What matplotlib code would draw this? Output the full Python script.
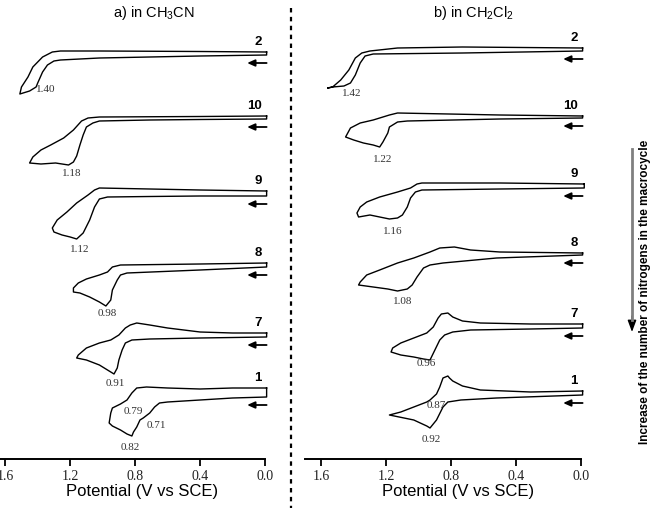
import matplotlib.pyplot as plt
from matplotlib.lines import Line2D
from matplotlib.patches import FancyArrowPatch

plt.rcParams['font.family'] = ['Liberation Sans', 'DejaVu Sans']
plt.rcParams['mathtext.fontset'] = 'custom'
plt.rcParams['mathtext.rm'] = 'Liberation Sans'
plt.rcParams['mathtext.default'] = 'regular'

# ---- a) in CH3CN : potential (V vs SCE) and current (a.u.) ----
a_names = ['2', '10', '9', '8', '7', '1']
a_offsets = [407, 343, 268, 196, 126, 71]

a_E_2 = [-0.01, 0.40, 1.02, 1.26, 1.31, 1.37, 1.43, 1.46, 1.50, 1.51, 1.45, 1.41, 1.40, 1.37, 1.34, 1.30, 1.26, 1.02, 0.40, -0.01]
a_I_2 = [0, 0.5, 1, 1, 0, -5, -15, -25, -35, -42, -39, -35, -31, -20, -13, -9, -8, -6, -4, -3]

a_E_10 = [-0.01, 0.40, 1.02, 1.09, 1.13, 1.18, 1.24, 1.32, 1.38, 1.43, 1.45,
          1.38, 1.29, 1.21, 1.18, 1.16, 1.14, 1.12, 1.10, 1.06, 1.02, 0.71, 0.40, -0.01]
a_I_10 = [0, -0.5, -1, -2, -5, -14, -22, -29, -34, -41, -47,
          -48, -47, -49, -46, -40, -29, -19, -11, -7, -5, -4, -3.5, -3]

a_E_9 = [-0.01, 0.40, 1.02, 1.05, 1.09, 1.16, 1.22, 1.28, 1.31, 1.30,
         1.25, 1.20, 1.16, 1.12, 1.08, 1.05, 1.02, 0.97, 0.71, 0.40, -0.01]
a_I_9 = [0, 1, 3, 1, -4, -12, -21, -29, -37, -41,
         -44, -46, -48, -42, -29, -16, -8, -6, -5.5, -5, -5]

a_E_8 = [-0.01, 0.40, 0.89, 0.94, 0.97, 1.02, 1.10, 1.15, 1.18, 1.18,
         1.14, 1.08, 1.02, 0.98, 0.95, 0.94, 0.91, 0.89, 0.85, 0.40, -0.01]
a_I_8 = [0, -1, -2, -4, -9, -12, -16, -20, -25, -29,
         -30, -34, -39, -43, -37, -27, -17, -12, -10, -7, -4]

a_E_7 = [-0.01, 0.20, 0.40, 0.60, 0.71, 0.79, 0.83, 0.86, 0.90, 0.95, 1.02, 1.10, 1.15, 1.16,
         1.10, 1.02, 0.95, 0.93, 0.91, 0.90, 0.88, 0.86, 0.82, 0.71, 0.40, -0.01]
a_I_7 = [0, 0, 1, 5, 8, 10, 8, 5, -2, -7, -10, -15, -22, -25,
         -27, -32, -39, -41, -35, -27, -17, -10, -7, -6, -5, -4]

a_E_1 = [-0.01, 0.20, 0.40, 0.60, 0.73, 0.79, 0.82, 0.85, 0.89, 0.94, 0.95, 0.96,
         0.94, 0.89, 0.85, 0.82, 0.81, 0.79, 0.77, 0.75, 0.71, 0.68, 0.65, 0.60, 0.40, 0.20, -0.01]
a_I_1 = [0, 0, -1, 0, 1, 0, -5, -12, -16, -20, -25, -35,
         -38, -42, -46, -48, -44, -39, -32, -30, -25, -19, -15, -14, -12, -10, -9]

a_peak_text = ['1.40', '1.18', '1.12', '0.98', '0.91', '0.79', '0.71', '0.82']
a_peak_curve = ['2', '10', '9', '8', '7', '1', '1', '1']
a_peak_E = [1.35, 1.19, 1.14, 0.97, 0.92, 0.81, 0.67, 0.83]
a_peak_I = [-38, -57, -59, -50, -50, -24, -37, -59]

# ---- b) in CH2Cl2 ----
b_names = ['2', '10', '9', '8', '7', '1']
b_offsets = [411, 343, 275, 206, 135, 68]

b_E_2 = [-0.01, 0.73, 1.13, 1.30, 1.35, 1.39, 1.43, 1.48, 1.53, 1.56,
         1.53, 1.46, 1.42, 1.39, 1.36, 1.33, 1.28, 0.73, -0.01]
b_I_2 = [0, 1, 0, -3, -5, -10, -22, -32, -39, -40,
         -39, -38, -35, -27, -15, -8, -6, -5, -3]

b_E_10 = [-0.01, 0.50, 1.13, 1.18, 1.24, 1.28, 1.36, 1.42, 1.45,
          1.40, 1.34, 1.28, 1.24, 1.22, 1.19, 1.18, 1.13, 1.07, 0.50, -0.01]
b_I_10 = [0, 1, 3, 1, -2, -4, -7, -12, -21,
          -24, -27, -29, -31, -26, -17, -11, -6, -5, -3, -2]

b_E_9 = [-0.02, 0.50, 0.98, 1.01, 1.05, 1.13, 1.24, 1.32, 1.36, 1.38, 1.37,
         1.30, 1.24, 1.18, 1.13, 1.10, 1.07, 1.05, 1.02, 0.98, 0.50, -0.02]
b_I_9 = [0, 1, 1, 0, -4, -8, -13, -18, -23, -29, -33,
         -31, -33, -35, -34, -31, -23, -14, -8, -6, -5, -4]

b_E_8 = [-0.01, 0.50, 0.68, 0.78, 0.87, 0.93, 1.03, 1.13, 1.24, 1.32, 1.36, 1.37,
         1.28, 1.19, 1.13, 1.07, 1.04, 1.01, 0.97, 0.93, 0.85, 0.52, -0.01]
b_I_8 = [0, 1, 3, 6, 5, 1, -5, -10, -17, -22, -29, -32,
         -34, -36, -38, -36, -32, -24, -15, -12, -10, -5, -2]

b_E_7 = [-0.01, 0.31, 0.62, 0.73, 0.79, 0.82, 0.86, 0.88, 0.91, 0.95, 1.03, 1.11, 1.16, 1.17,
         1.11, 1.03, 0.97, 0.93, 0.90, 0.87, 0.84, 0.79, 0.68, 0.31, -0.01]
b_I_7 = [0, 0, 1, 3, 7, 11, 10, 6, -3, -9, -14, -19, -24, -28,
         -31, -33, -35, -36, -26, -16, -11, -8, -6, -5, -4]

b_E_1 = [-0.01, 0.31, 0.62, 0.73, 0.79, 0.81, 0.82, 0.85, 0.87, 0.89, 0.93, 0.95, 1.03, 1.11, 1.18,
         1.03, 0.95, 0.93, 0.89, 0.85, 0.82, 0.74, 0.52, -0.01]
b_I_1 = [0, -1, 1, 5, 10, 13, 15, 13, 4, -3, -9, -11, -16, -21, -24,
         -29, -35, -37, -29, -16, -11, -9, -7, -4]

b_peak_text = ['1.42', '1.22', '1.16', '1.08', '0.96', '0.87', '0.92']
b_peak_curve = ['2', '10', '9', '8', '7', '1', '1']
b_peak_E = [1.41, 1.22, 1.16, 1.10, 0.95, 0.89, 0.92]
b_peak_I = [-45, -43, -47, -48, -40, -15, -49]

ticks = [1.6, 1.2, 0.8, 0.4, 0.0]
tick_labels = ['1.6', '1.2', '0.8', '0.4', '0.0']

a_E = [a_E_2, a_E_10, a_E_9, a_E_8, a_E_7, a_E_1]
a_I = [a_I_2, a_I_10, a_I_9, a_I_8, a_I_7, a_I_1]
b_E = [b_E_2, b_E_10, b_E_9, b_E_8, b_E_7, b_E_1]
b_I = [b_I_2, b_I_10, b_I_9, b_I_8, b_I_7, b_I_1]

W, H = 651, 508
fig = plt.figure(figsize=(W / 100, H / 100), dpi=100)

serif = ['Liberation Serif', 'DejaVu Serif']


def draw_panel(ax, names, offsets, Es, Is, p_text, p_curve, p_E, p_I):
    for name, off, E, I in zip(names, offsets, Es, Is):
        y = [off + v for v in I]
        ax.plot(E + [E[0]], y + [y[0]], color='black', lw=1.0,
                solid_joinstyle='round', clip_on=False)
        ax.text(0.02, off + 10, name, ha='right', va='center',
                fontsize=9.5, fontweight='bold')
        ya = off + I[-1] - 8
        ax.annotate('', xy=(0.11, ya), xytext=(-0.01, ya),
                    arrowprops=dict(arrowstyle='-|>,head_length=0.45,head_width=0.2',
                                    color='black', lw=1.3, shrinkA=0, shrinkB=0),
                    annotation_clip=False)
    for t, c, e, i in zip(p_text, p_curve, p_E, p_I):
        off = offsets[names.index(c)]
        ax.text(e, off + i, t, ha='center', va='center', fontsize=8,
                family=serif, color='#333333')
    ax.set_xlim(1.7, 0.0)
    ax.set_ylim(0, 459)
    for s in ['left', 'right', 'top']:
        ax.spines[s].set_visible(False)
    ax.spines['bottom'].set_linewidth(1.4)
    ax.set_yticks([])
    ax.set_xticks(ticks)
    ax.set_xticklabels(tick_labels, family=serif, fontsize=10, color='#222222')
    ax.tick_params(axis='x', direction='out', length=5, width=1.3, pad=3)
    ax.set_xlabel('Potential (V vs SCE)', fontsize=12)
    ax.xaxis.set_label_coords(0.554, -0.055)
    ax.patch.set_visible(False)


bottom = (H - 459) / H
height = 459 / H
axw = 276 / W
ax_a = fig.add_axes([-11 / W, bottom, axw, height])
ax_b = fig.add_axes([305 / W, bottom, axw, height])
draw_panel(ax_a, a_names, a_offsets, a_E, a_I, a_peak_text, a_peak_curve, a_peak_E, a_peak_I)
draw_panel(ax_b, b_names, b_offsets, b_E, b_I, b_peak_text, b_peak_curve, b_peak_E, b_peak_I)

fig.text(154 / W, 1 - 13 / H, 'a) in CH$_3$CN', ha='center', va='center', fontsize=10.5)
fig.text(474 / W, 1 - 13 / H, 'b) in CH$_2$Cl$_2$', ha='center', va='center', fontsize=10.5)

# dotted separator
fig.add_artist(Line2D([291 / W, 291 / W], [1 - 8 / H, 0], transform=fig.transFigure,
                      color='black', lw=1.6, linestyle=(0, (2, 2))))

# trend arrow on the right
fig.add_artist(Line2D([632 / W, 632 / W], [1 - 149 / H, 1 - 320 / H],
                      transform=fig.transFigure, color='#808080', lw=2))
fig.add_artist(FancyArrowPatch((632 / W, 1 - 316 / H), (632 / W, 1 - 332 / H),
                               transform=fig.transFigure,
                               arrowstyle='-|>,head_length=7,head_width=2.6',
                               color='black', lw=1, shrinkA=0, shrinkB=0))
fig.text(639 / W, 1 - 292 / H, 'Increase of the number of nitrogens in the macrocycle',
         rotation=90, ha='left', va='center', fontsize=8.5, fontweight='bold')

fig.savefig('out.png', dpi=100)
